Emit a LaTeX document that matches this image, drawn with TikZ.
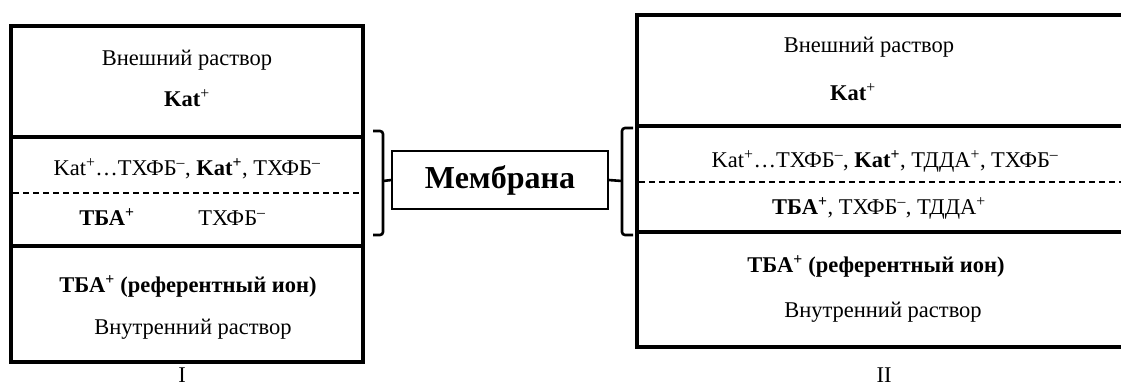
\documentclass[tikz,border=0pt]{standalone}
\usepackage{fontspec}
\setmainfont{Liberation Serif}
\begin{document}
\begin{tikzpicture}[x=1pt,y=-1pt,
  boxline/.style={line width=4pt, line join=miter},
  dashline/.style={line width=1.5pt, dash pattern=on 6pt off 4pt},
  braceline/.style={line width=2.6pt, rounded corners=3pt},
  lbl/.style={font=\fontsize{22.5}{26}\selectfont, inner sep=0pt, anchor=base},
  memnode/.style={draw, line width=1.4pt, minimum width=216pt, minimum height=58pt, inner sep=0pt, font=\fontsize{32}{36}\selectfont\bfseries}]
\useasboundingbox (0,0) rectangle (1121,389);
\begin{scope}
\clip (0,0) rectangle (1121,389);
% left box I
\draw[boxline] (11,26) rectangle (363,362);
\draw[boxline] (11,137) -- (363,137);
\draw[boxline] (11,246) -- (363,246);
\draw[dashline] (13,193) -- (361,193);
\node[lbl] (l1) at (187,65) {Внешний раствор};
\node[lbl] (l2) at (187,106) {\textbf{Kat}\textsuperscript{+}};
\node[lbl] (l3) at (187,175) {Kat\textsuperscript{+}…ТХФБ\textsuperscript{–}, \textbf{Kat\textsuperscript{+}}, ТХФБ\textsuperscript{–}};
\node[lbl] (l4) at (107,225) {\textbf{ТБА\textsuperscript{+}}};
\node[lbl] (l5) at (232,225) {ТХФБ\textsuperscript{–}};
\node[lbl] (l6) at (188,292) {\textbf{ТБА\textsuperscript{+} (референтный ион)}};
\node[lbl] (l7) at (193,334) {Внутренний раствор};
\node[lbl] (n1) at (182,382) {I};
% right box II
\draw[boxline] (1130,15) -- (637,15) -- (637,347) -- (1130,347);
\draw[boxline] (637,126) -- (1130,126);
\draw[boxline] (637,232) -- (1130,232);
\draw[dashline] (639,182) -- (1125,182);
\node[lbl] (r1) at (869,52) {Внешний раствор};
\node[lbl] (r2) at (853,100) {\textbf{Kat}\textsuperscript{+}};
\node[lbl] (r3) at (885,167) {Kat\textsuperscript{+}…ТХФБ\textsuperscript{–}, \textbf{Kat\textsuperscript{+}}, ТДДА\textsuperscript{+}, ТХФБ\textsuperscript{–}};
\node[lbl] (r4) at (879,214) {\textbf{ТБА\textsuperscript{+}}, ТХФБ\textsuperscript{–}, ТДДА\textsuperscript{+}};
\node[lbl] (r5) at (876,272) {\textbf{ТБА\textsuperscript{+} (референтный ион)}};
\node[lbl] (r6) at (883,317) {Внутренний раствор};
\node[lbl] (n2) at (884,382) {II};
% membrane
\node[memnode] (mem) at (500,180) {Мембрана};
\draw[braceline] (373,131) -- (383,131) -- (383,235) -- (373,235);
\draw[braceline] (383,181) -- (mem.west);
\draw[braceline] (633,128) -- (622,128) -- (622,235) -- (633,235);
\draw[braceline] (622,181) -- (mem.east);
\end{scope}
\end{tikzpicture}
\end{document}
